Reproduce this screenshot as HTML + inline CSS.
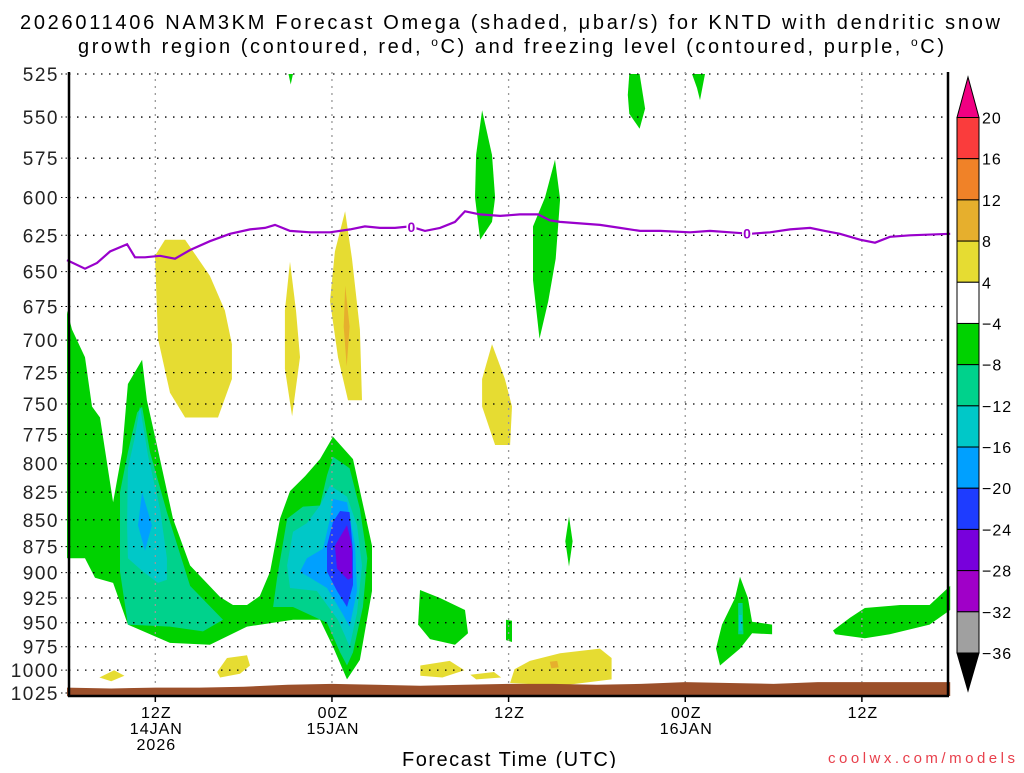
<!DOCTYPE html>
<html><head><meta charset="utf-8"><style>
body{margin:0;background:#fff;width:1024px;height:768px;overflow:hidden;font-family:"Liberation Sans",sans-serif}
svg text{font-family:"Liberation Sans","DejaVu Sans",sans-serif}
</style></head><body>
<svg id="chart" width="1024" height="768" viewBox="0 0 1024 768" xmlns="http://www.w3.org/2000/svg">
<g id="title">
<text x="20" y="29" font-size="20" textLength="980" lengthAdjust="spacing">2026011406 NAM3KM Forecast Omega (shaded, μbar/s) for KNTD with dendritic snow</text>
<text x="78" y="53" font-size="20" textLength="866" lengthAdjust="spacing">growth region (contoured, red, <tspan baseline-shift="super" font-size="12">o</tspan>C) and freezing level (contoured, purple, <tspan baseline-shift="super" font-size="12">o</tspan>C)</text>
</g>
<g id="fills"></g>
<g id="grid"></g>
<g id="terrain"></g>
<g id="fz"></g>
<g id="axes"></g>
<g id="cbar"></g>
<text x="402" y="766" font-size="20" textLength="214" lengthAdjust="spacing">Forecast Time (UTC)</text>
<text x="828" y="763" font-size="15" fill="#e8404c" textLength="187" lengthAdjust="spacing">coolwx.com/models</text>
</svg>
<script>
const pLevels=[525,550,575,600,625,650,675,700,725,750,775,800,825,850,875,900,925,950,975,1000,1025];
const xTickHours=[6,18,30,42,54];
const xTickLabels=[["12Z","14JAN","2026"],["00Z","15JAN"],["12Z"],["00Z","16JAN"],["12Z"]];
const cbLevels=[20,16,12,8,4,-4,-8,-12,-16,-20,-24,-28,-32,-36];
const cbColors=["#fa3c3c","#f08228","#e6af2d","#e6dc32","#ffffff","#00d200","#00d28c","#00c8c8","#00a0ff","#1e3cff","#7800dc","#a000c8","#a0a0a0"];
// omega blobs: [colorIndex, [[hour,pressure],...]]
const blobs=[
[5,[[0,678],[0.34,692],[1.22,713],[1.7,752],[2.24,761],[3.13,834],[3.74,790],[4.14,734],[5.1,715],[5.43,747],[6.11,784],[7.2,849],[8.36,893],[10.4,924],[11.28,932],[12.23,932],[13.1,923],[13.8,899],[14.47,849],[15.15,824],[16.17,811],[17.19,796],[18.07,777],[19.43,796],[20.72,874],[20.72,918],[19.9,989],[19.02,1010],[18.07,975],[17.19,947],[15.35,947],[12.23,954],[9.71,973],[7.0,971],[4.14,952],[3.13,910],[1.9,905],[1.22,886],[0,886]]],
[6,[[5.1,752],[5.64,790],[6.79,843],[8.36,913],[10.6,947],[9.24,959],[7.0,954],[4.14,952],[3.6,899],[3.6,825],[4.14,790],[4.76,757]]],
[6,[[18.07,794],[19.2,804],[19.9,840],[20.4,886],[20.1,934],[19.43,981],[19.02,995],[18.55,981],[17.66,950],[15.35,934],[14.0,934],[14.27,905],[14.95,849],[16.03,838],[17.19,837],[17.66,810]]],
[7,[[4.96,752],[5.5,793],[6.32,840],[6.79,886],[6.79,907],[6.18,910],[5.16,899],[4.14,886],[4.08,855],[4.14,804],[4.62,777]]],
[8,[[5.1,825],[5.77,855],[5.3,879],[4.82,855]]],
[7,[[17.87,819],[19.02,829],[19.7,855],[20.04,893],[19.7,940],[19.2,975],[18.9,964],[18.4,947],[16.98,918],[15.15,915],[14.95,893],[15.35,861],[16.3,853],[17.19,837]]],
[8,[[18.07,831],[19.02,834],[19.57,874],[19.7,918],[19.2,954],[18.68,940],[17.66,915],[15.83,899],[16.3,886],[17.39,877],[17.87,849]]],
[9,[[18.55,842],[19.2,843],[19.43,880],[19.43,912],[19.02,934],[18.34,918],[17.66,899],[17.66,874],[18.07,852]]],
[10,[[19.02,855],[19.36,874],[19.36,905],[19.09,907],[18.34,896],[18.2,874]]],
[3,[[5.98,639],[6.66,628],[8.02,628],[9.71,653],[10.73,678],[11.2,703],[11.2,730],[10.26,761],[8.02,761],[7.0,741],[6.18,699]]],
[3,[[15.15,643],[15.56,678],[15.83,713],[15.29,760],[14.8,722],[14.8,678]]],
[3,[[18.89,609],[19.36,641],[19.9,692],[20.04,747],[19.09,747],[18.41,713],[17.87,671],[18.2,636]]],
[2,[[18.9,660],[19.2,690],[19.0,720],[18.8,690]]],
[3,[[28.87,703],[29.75,730],[30.23,752],[30.1,784],[29.08,784],[28.2,752],[28.2,730]]],
[3,[[2.2,1008],[3.2,1000],[3.9,1006],[3.0,1012]]],
[3,[[10.2,1002],[10.87,987],[12.23,984],[12.43,995],[11.75,1004],[10.4,1008]]],
[3,[[24.0,995],[26.0,990],[27.0,1000],[25.5,1008],[24.0,1006]]],
[3,[[27.4,1005],[29.0,1002],[29.5,1008],[27.8,1010]]],
[3,[[30.4,999],[31.45,990],[33.5,982],[36.2,977],[37.0,987],[37.0,1010],[33.5,1017],[30.1,1014]]],
[2,[[32.8,991],[33.3,990],[33.4,997],[32.9,998]]],
[5,[[15.05,525],[15.35,525],[15.2,531]]],
[5,[[28.2,546],[28.87,573],[29.08,600],[28.87,616],[28.07,628],[27.72,600],[27.79,573]]],
[5,[[33.15,576],[33.5,601],[33.2,641],[32.7,671],[32.1,699],[31.66,656],[31.66,619],[32.47,600]]],
[5,[[38.2,525],[38.9,525],[39.27,545],[38.9,557],[38.2,548],[38.1,537]]],
[5,[[42.46,525],[43.34,525],[43.0,540],[42.8,533]]],
[5,[[34.1,847],[34.35,870],[34.1,894],[33.85,870]]],
[5,[[23.98,917],[25.34,925],[27.04,937],[27.24,961],[26.36,973],[24.66,967],[23.85,952]]],
[5,[[29.82,947],[30.23,948],[30.23,970],[29.82,968]]],
[5,[[45.72,904],[46.26,925],[46.54,949],[47.9,952],[47.9,962],[46.54,961],[45.72,977],[44.36,995],[44.09,977],[44.5,952],[45.38,925]]],
[6,[[45.6,930],[45.9,930],[45.95,962],[45.6,962]]],
[7,[[45.65,942],[45.85,942],[45.85,958],[45.65,958]]],
[5,[[52.04,958],[53.19,945],[54.2,935],[56.6,932],[58.6,932],[60,913],[60,937],[58.6,952],[55.9,962],[54.2,966],[52.2,962]]]
];
const terrainHours=[0,3,6,9,12,15,18,21,24,27,30,33,36,39,42,45,48,51,54,57,60];
const terrainP=[1019,1020,1019,1019,1018,1016,1015,1016,1017,1016,1015,1015,1016,1015,1013,1014,1015,1013,1013,1013,1013];
const fzHours=[0,1.22,2.04,2.92,4.08,4.62,5.3,6.32,7.34,8.36,9.71,11.07,12.43,13.45,14.13,15.15,16.51,17.87,19.23,20.24,21.26,22.28,23.3,24.32,25.34,26.36,27.04,28.06,29.42,30.77,32.0,32.81,33.49,34.85,36.21,37.57,38.93,40.29,42.32,43.68,45.04,46.4,47.76,49.12,50.48,51.49,52.51,53.87,54.89,55.91,57.27,60];
const fzP=[642,648,644,636,631,640,640,639,641,635,629,624,621,620,618,622,623,623,621,619,620,620,619,622,620,616,609,611,612,611,611,615,616,617,618,620,622,622,623,622,623,624,623,621,620,622,624,628,630,626,625,624];
const fzLabelHours=[23.4,46.2];

const NS="http://www.w3.org/2000/svg";
const X0=67,HX=14.72,Y0=74,YH=619,L525=Math.log(525),LR=Math.log(1025)-Math.log(525);
const PL=69,PR=948,PT=72,PB=696;
function X(h){return X0+h*HX;}
function Y(p){return Y0+(Math.log(p)-L525)/LR*YH;}
function mk(tag,attrs,parent){const e=document.createElementNS(NS,tag);for(const k in attrs)e.setAttribute(k,attrs[k]);parent.appendChild(e);return e;}

const fills=document.getElementById('fills');
blobs.forEach((b,i)=>{
  const pts=b[1].map(q=>X(q[0]).toFixed(1)+','+Y(q[1]).toFixed(1)).join(' ');
  const e=mk('polygon',{points:pts,fill:cbColors[b[0]]},fills);
  
  
});

const grid=document.getElementById('grid');
pLevels.forEach(p=>{
  const e=mk('line',{x1:PL,x2:PR,y1:Y(p),y2:Y(p),stroke:'#000','stroke-width':1.3,'stroke-dasharray':'1.5 6.5'},grid);
  
  
});
xTickHours.forEach(h=>{
  const e=mk('line',{x1:X(h),x2:X(h),y1:PT,y2:PB,stroke:'#999','stroke-width':1.3,'stroke-dasharray':'2 5'},grid);
  
  
});

const ter=document.getElementById('terrain');
let tp='M'+X(0)+','+PB;
terrainHours.forEach((h,i)=>{tp+=' L'+X(h).toFixed(1)+','+Y(terrainP[i]).toFixed(1);});
tp+=' L'+X(60)+','+PB+' Z';
const te=mk('path',{d:tp,fill:'#9b4f2a'},ter);



const fz=document.getElementById('fz');
const fd=fzHours.map((h,i)=>(i?'L':'M')+X(h).toFixed(1)+','+Y(fzP[i]).toFixed(1)).join(' ');
const fl=mk('path',{d:fd,fill:'none',stroke:'#9900cc','stroke-width':2.2},fz);


function interp(h){for(let i=1;i<fzHours.length;i++){if(h<=fzHours[i]){const t=(h-fzHours[i-1])/(fzHours[i]-fzHours[i-1]);return fzP[i-1]+t*(fzP[i]-fzP[i-1]);}}return fzP[fzP.length-1];}
fzLabelHours.forEach(h=>{
  const y=Y(interp(h));
  const r=mk('rect',{x:X(h)-5,y:y-7,width:10,height:14,fill:'#fff'},fz);
  
  
  const t=mk('text',{x:X(h),y:y+5,'text-anchor':'middle','font-size':14,'font-weight':'bold',fill:'#9900cc'},fz);
  t.textContent='0';
  
  
});

const ax=document.getElementById('axes');
[[PL,PT,PL,PB+1],[PL-1,PB,PR+1,PB],[PR,PT,PR,PB]].forEach(c=>{
  const e=mk('line',{x1:c[0],y1:c[1],x2:c[2],y2:c[3],stroke:'#000','stroke-width':2.5},ax);
  
  
});
pLevels.forEach(p=>{
  const y=Y(p);
  const tk=mk('line',{x1:PL-8,x2:PL,y1:y,y2:y,stroke:'#000','stroke-width':1,'stroke-dasharray':'1.5 3'},ax);
  
  
  const t=mk('text',{x:59,y:y+7,'text-anchor':'end','font-size':19,'letter-spacing':1.5,fill:'#222'},ax);
  t.textContent=p;
  
  
});
xTickHours.forEach((h,i)=>{
  const x=X(h);
  const tk=mk('line',{x1:x,x2:x,y1:PB,y2:PB+6,stroke:'#000','stroke-width':1.5},ax);
  
  
  xTickLabels[i].forEach((s,j)=>{
    const t=mk('text',{x:x+1,y:718+j*16,'text-anchor':'middle','font-size':16,'letter-spacing':1},ax);
    t.textContent=s;
    
    
  });
});

const cb=document.getElementById('cbar');
const CX=957,CW=22,CT=117.5,CB=653;
const bh=(CB-CT)/cbColors.length;
const up=mk('polygon',{points:`${CX},${CT} ${CX+CW/2},77 ${CX+CW},${CT}`,fill:'#f00082',stroke:'#000','stroke-width':1},cb);


const dn=mk('polygon',{points:`${CX},${CB} ${CX+CW/2},691 ${CX+CW},${CB}`,fill:'#000',stroke:'#000','stroke-width':1},cb);


cbColors.forEach((c,i)=>{
  const r=mk('rect',{x:CX,y:CT+i*bh,width:CW,height:bh,fill:c,stroke:'#000','stroke-width':1},cb);
  
  
});
cbLevels.forEach((v,i)=>{
  const t=mk('text',{x:CX+CW+3,y:CT+i*bh+6,'font-size':16,'letter-spacing':1},cb);
  t.textContent=v<0?'\u2212'+(-v):String(v);
  
  
});
</script>
</body></html>
